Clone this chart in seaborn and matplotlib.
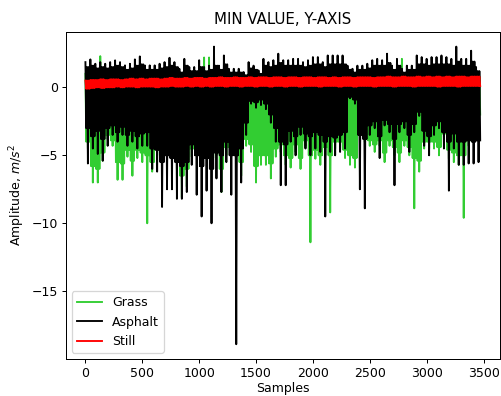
import numpy as np
import matplotlib
matplotlib.use("Agg")
import matplotlib.pyplot as plt
import seaborn as sns

# per-bin (about 44 samples each) extremes
asphalt_hi = [1.86, 2.06, 1.74, 1.86, 1.74, 1.86, 1.99, 1.86, 1.62, 1.74,
              2.06, 2.28, 1.62, 1.62, 1.62, 1.74, 1.86, 2.18, 1.86, 1.37,
              2.10, 1.50, 1.50, 2.00, 1.50, 1.60, 3.00, 1.60, 2.35, 1.37,
              1.37, 1.37, 1.13, 1.86, 1.60, 1.25, 2.10, 1.86, 2.00, 2.48,
              2.00, 2.00, 2.10, 2.10, 1.86, 2.00, 2.23, 2.23, 1.86, 2.35,
              2.35, 2.35, 2.35, 1.60, 1.37, 1.60, 1.60, 1.74, 2.00, 2.10,
              2.00, 2.48, 1.60, 2.10, 1.37, 1.60, 1.60, 2.35, 2.23, 2.10,
              2.23, 2.23, 2.35, 2.23, 2.10, 3.00, 2.10, 2.10, 2.70, 1.50]
asphalt_lo = [-5.6, -4.5, -4.9, -5.4, -4.3, -3.5, -4.0, -3.5, -4.3, -4.0,
              -4.5, -4.3, -4.3, -6.0, -6.2, -8.8, -7.5, -7.5, -8.2, -8.2,
              -7.7, -5.7, -7.9, -9.5, -7.6, -10.0, -6.7, -7.7, -5.5, -7.9,
              -18.9, -7.0, -3.5, -1.2, -1.5, -1.3, -1.6, -2.6, -4.0, -7.2,
              -7.2, -4.0, -5.0, -3.5, -4.5, -5.0, -4.5, -4.75, -9.5, -4.75,
              -5.0, -4.75, -4.5, -0.8, -1.2, -7.5, -8.9, -3.5, -3.0, -5.2,
              -2.8, -3.3, -7.2, -3.3, -3.0, -4.75, -3.3, -2.1, -4.3, -5.0,
              -3.5, -3.0, -4.5, -7.6, -4.5, -5.7, -5.7, -5.6, -5.6, -5.5]
# edges of the dense part of the band in each bin
asphalt_core_hi = [1.5, 1.6, 1.4, 1.5, 1.4, 1.5, 1.6, 1.5, 1.3, 1.4,
                   1.6, 1.7, 1.3, 1.3, 1.3, 1.4, 1.5, 1.6, 1.5, 1.1,
                   1.6, 1.2, 1.2, 1.5, 1.2, 1.3, 1.6, 1.3, 1.7, 1.1,
                   1.1, 1.1, 0.9, 1.4, 1.3, 1.0, 1.6, 1.5, 1.6, 1.8,
                   1.6, 1.6, 1.6, 1.6, 1.5, 1.6, 1.7, 1.7, 1.5, 1.7,
                   1.7, 1.7, 1.7, 1.3, 1.1, 1.3, 1.3, 1.4, 1.6, 1.6,
                   1.6, 1.8, 1.3, 1.6, 1.1, 1.3, 1.3, 1.7, 1.7, 1.6,
                   1.7, 1.7, 1.7, 1.7, 1.6, 1.9, 1.6, 1.6, 1.9, 1.2]
asphalt_core_lo = [-3.0, -3.6, -3.2, -3.8, -3.0, -2.8, -3.3, -2.9, -3.5, -3.2,
                   -3.6, -3.4, -3.3, -4.5, -4.6, -5.5, -5.0, -5.2, -5.5, -5.8,
                   -5.5, -4.2, -5.0, -5.8, -5.2, -6.0, -4.8, -5.0, -4.0, -5.0,
                   -5.0, -4.5, -2.6, -1.0, -1.1, -0.9, -1.2, -2.0, -3.0, -4.0,
                   -4.2, -3.2, -3.6, -2.9, -3.4, -3.6, -3.3, -3.5, -4.0, -3.6,
                   -3.7, -3.5, -3.3, -0.7, -0.9, -3.5, -3.8, -2.8, -2.5, -3.6,
                   -2.4, -2.7, -3.8, -2.7, -2.5, -3.5, -2.7, -1.8, -3.2, -3.6,
                   -2.8, -2.5, -3.3, -4.0, -3.4, -4.0, -4.0, -3.9, -4.0, -3.9]

grass_hi = [1.0, 1.0, 1.0, 2.3, 1.0, 1.0, 1.0, 1.0, 1.0, 1.0,
            1.0, 1.0, 1.0, 1.0, 1.0, 1.0, 1.0, 1.0, 1.0, 1.0,
            1.3, 1.0, 1.0, 1.0, 2.2, 2.2, 1.0, 1.0, 1.0, 1.0,
            1.0, 1.0, 1.0, 1.0, 1.0, 1.0, 1.0, 1.0, 1.0, 1.0,
            1.0, 1.0, 1.0, 1.0, 1.0, 1.0, 1.0, 1.0, 1.0, 1.0,
            1.0, 1.0, 1.0, 1.0, 1.0, 1.0, 1.0, 1.0, 1.0, 1.0,
            1.0, 1.0, 1.0, 1.0, 2.1, 1.0, 1.0, 1.0, 1.0, 1.0,
            1.0, 1.0, 1.0, 1.0, 1.0, 1.0, 1.0, 1.0, 1.0, 1.0]
grass_lo = [-4.5, -7.0, -7.0, -5.4, -3.8, -4.3, -6.8, -6.8, -5.1, -6.5,
            -5.2, -5.5, -10.0, -6.2, -5.0, -4.8, -5.0, -5.0, -6.0, -8.1,
            -7.3, -5.1, -5.0, -5.0, -5.0, -6.0, -5.0, -7.7, -5.0, -5.0,
            -5.0, -6.5, -4.3, -4.75, -7.0, -5.7, -5.7, -6.7, -5.1, -4.75,
            -5.7, -5.9, -4.75, -6.0, -4.3, -11.4, -5.25, -5.7, -5.0, -9.2,
            -4.5, -4.5, -5.2, -5.7, -5.9, -3.5, -4.0, -4.3, -4.75, -4.3,
            -5.5, -4.3, -5.0, -5.5, -4.3, -5.0, -8.9, -6.2, -4.5, -4.5,
            -4.5, -5.0, -3.8, -5.25, -5.5, -5.7, -9.6, -4.3, -3.8, -2.0]
grass_core_hi = [0.8] * 80
grass_core_lo = [-4.0, -5.8, -6.0, -4.8, -3.5, -3.9, -5.5, -5.6, -4.6, -5.4,
                 -4.6, -4.8, -5.0, -5.5, -4.5, -4.3, -4.5, -4.4, -5.2, -6.5,
                 -6.0, -4.5, -4.4, -4.4, -4.5, -5.2, -4.4, -6.0, -4.4, -4.4,
                 -4.4, -5.5, -3.8, -4.2, -5.8, -5.0, -5.0, -5.6, -4.5, -4.2,
                 -5.0, -5.2, -4.2, -5.2, -3.9, -5.0, -4.6, -5.0, -4.4, -5.0,
                 -4.0, -4.0, -4.6, -5.0, -5.2, -3.2, -3.6, -3.9, -4.2, -3.9,
                 -4.8, -3.9, -4.4, -4.8, -3.9, -4.4, -5.2, -5.4, -4.0, -4.0,
                 -4.0, -4.4, -3.4, -4.6, -4.8, -5.0, -5.0, -3.9, -3.4, -2.0]

still_hi = [0.50, 0.55, 0.55, 0.60, 0.55, 0.60, 0.60, 0.55, 0.60, 0.65,
            0.60, 0.65, 0.60, 0.65, 0.65, 0.60, 0.65, 0.70, 0.65, 0.65,
            0.70, 0.65, 0.70, 0.70, 0.65, 0.70, 0.70, 0.75, 0.70, 0.70,
            0.75, 0.70, 0.70, 0.75, 0.70, 0.75, 0.75, 0.70, 0.75, 0.75,
            0.70, 0.75, 0.75, 0.70, 0.75, 0.75, 0.70, 0.75, 0.75, 0.70,
            0.75, 0.70, 0.75, 0.75, 0.70, 0.75, 0.75, 0.75, 0.70, 0.75,
            0.75, 0.80, 0.75, 0.75, 0.80, 0.75, 0.75, 0.80, 0.75, 0.80,
            0.75, 0.80, 0.75, 0.80, 0.75, 0.80, 0.80, 0.75, 0.80, 0.80]
still_lo = [-0.10, -0.05, 0.00, -0.05, 0.00, 0.00, 0.05, 0.00, 0.05, 0.05,
            0.00, 0.05, 0.05, 0.05, 0.00, 0.05, 0.05, 0.10, 0.05, 0.05,
            0.10, 0.05, 0.10, 0.05, 0.10, 0.05, 0.10, 0.10, 0.05, 0.10,
            0.10, 0.05, 0.10, 0.10, 0.05, 0.10, 0.10, 0.05, 0.10, 0.10,
            0.05, 0.10, 0.10, 0.05, 0.10, 0.10, 0.10, 0.05, 0.10, 0.10,
            0.10, 0.05, 0.10, 0.10, 0.05, 0.10, 0.10, 0.10, 0.05, 0.10,
            0.10, 0.10, 0.05, 0.10, 0.10, 0.10, 0.05, 0.10, 0.10, 0.10,
            0.10, 0.05, 0.10, 0.10, 0.10, 0.05, 0.10, 0.10, 0.10, 0.10]

last_sample = 3470


def series(hi, lo, core_hi, core_lo):
    # inside each bin: peak, dense band, trough, dense band
    y = np.column_stack([hi, core_lo, core_hi, lo, core_hi, core_lo]).ravel()
    x = np.linspace(0, last_sample, len(y))
    return x, y


fig, ax = plt.subplots(figsize=(501 / 90, 396 / 90), dpi=90)
fig.subplots_adjust(left=0.131, right=0.998, top=0.92, bottom=0.093)

for hi, lo, chi, clo, name, col in [
    (grass_hi, grass_lo, grass_core_hi, grass_core_lo, "Grass", "limegreen"),
    (asphalt_hi, asphalt_lo, asphalt_core_hi, asphalt_core_lo, "Asphalt", "black"),
    (still_hi, still_lo, still_hi, still_lo, "Still", "red"),
]:
    x, y = series(hi, lo, chi, clo)
    sns.lineplot(x=x, y=y, ax=ax, color=col, label=name, linewidth=1.5,
                 estimator=None, sort=False)

ax.set_xlim(-174, 3644)
ax.set_ylim(-20.0, 4.1)
ax.set_xticks([0, 500, 1000, 1500, 2000, 2500, 3000, 3500])
ax.set_yticks([0, -5, -10, -15])
ax.tick_params(length=3.2, pad=3.0)
ax.set_title("MIN VALUE, Y-AXIS")
ax.set_xlabel("Samples", labelpad=1.5)
ax.set_ylabel("Amplitude, $m/s^2$")
ax.legend(loc="lower left")

fig.savefig("out.png", dpi=90)
